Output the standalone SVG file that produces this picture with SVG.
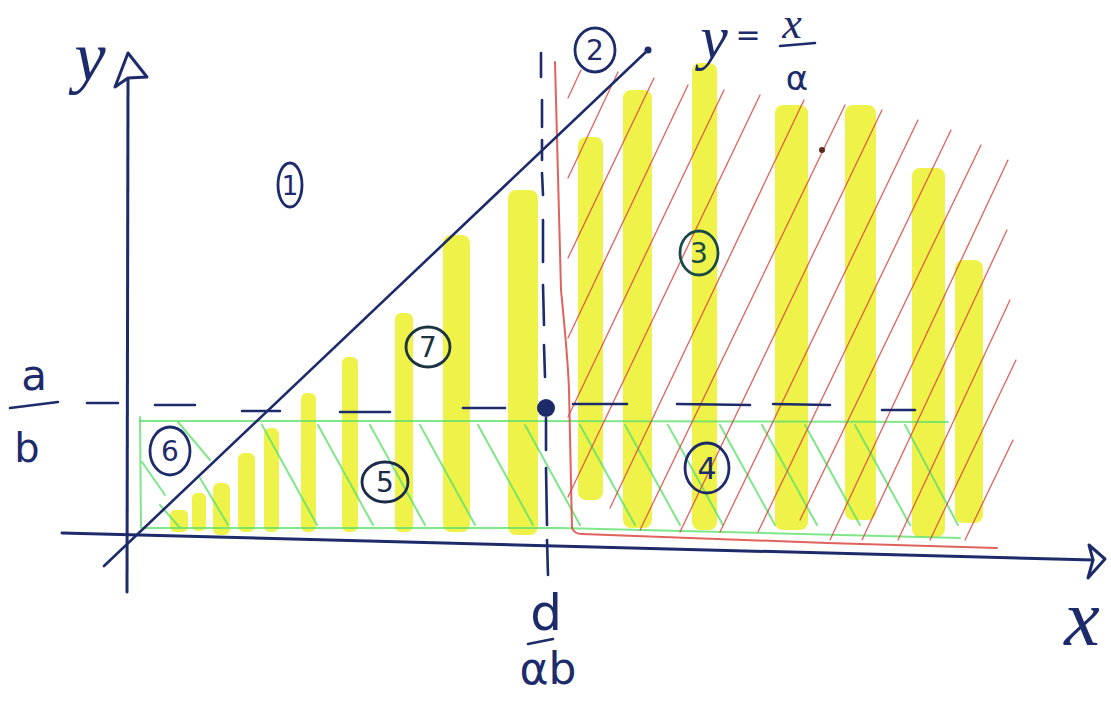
<svg xmlns="http://www.w3.org/2000/svg" width="1111" height="701" viewBox="0 0 1111 701">
<style>
.ink{stroke:#1d2b6b;fill:none;stroke-linecap:round;stroke-linejoin:round}
.ax{stroke-width:3}
.dash{stroke-width:2.6}
.yel{fill:#eef23a;opacity:.92}
.grn{stroke:#5fe06c;stroke-width:2;fill:none;opacity:.8;stroke-linecap:round}
.red{stroke:#d9473f;stroke-width:1.3;fill:none;opacity:.85;stroke-linecap:round}
.lbl{font-family:"DejaVu Sans",sans-serif;fill:#1d2b6b;text-anchor:middle}
.it{font-family:"Liberation Serif",serif;font-style:italic;fill:#1d2b6b;text-anchor:middle}
.circ{stroke:#1d2b6b;stroke-width:2.8;fill:none}
</style>
<rect width="1111" height="701" fill="#ffffff"/>

<g id="yellow-shading">
<rect class="yel" x="170" y="510" width="18" height="22" rx="5"/>
<rect class="yel" x="192" y="493" width="14" height="38" rx="5"/>
<rect class="yel" x="213" y="483" width="17" height="52" rx="6"/>
<rect class="yel" x="238" y="453" width="17" height="79" rx="6"/>
<rect class="yel" x="264" y="428" width="15" height="104" rx="6"/>
<rect class="yel" x="301" y="393" width="15" height="139" rx="6"/>
<rect class="yel" x="342" y="357" width="16" height="175" rx="6"/>
<rect class="yel" x="395" y="313" width="18" height="219" rx="6"/>
<rect class="yel" x="443" y="235" width="27" height="297" rx="8"/>
<rect class="yel" x="508" y="190" width="30" height="345" rx="8"/>
<rect class="yel" x="578" y="137" width="25" height="363" rx="8"/>
<rect class="yel" x="623" y="90" width="29" height="438" rx="8"/>
<rect class="yel" x="692" y="63" width="25" height="467" rx="8"/>
<rect class="yel" x="775" y="105" width="33" height="425" rx="8"/>
<rect class="yel" x="845" y="105" width="31" height="415" rx="8"/>
<rect class="yel" x="912" y="168" width="33" height="369" rx="8"/>
<rect class="yel" x="955" y="260" width="28" height="263" rx="8"/>
</g>

<g id="green-region">
<path class="grn" d="M140,417 L141,528"/>
<path class="grn" d="M140,421 L500,421 L948,422"/>
<path class="grn" d="M143,528 L560,528 L960,538"/>
<path class="grn" d="M178,422 L210,460 M142,462 L165,495 M160,505 L180,528 M200,478 L228,525"/>
<path class="grn" d="M262,425 L317,525 M318,425 L373,525 M370,425 L425,525 M420,425 L475,525 M478,425 L533,525 M525,425 L580,525 M580,425 L635,525 M625,425 L680,525 M668,425 L723,525 M720,425 L775,525 M762,425 L817,525 M805,425 L860,525 M855,425 L910,525 M905,425 L958,525"/>
</g>

<g id="red-region">
<path class="red" style="stroke-width:2" d="M555,62 C557,150 559,230 561,290 C565,330 568,360 569,390 L572,528 C574,533 578,534 582,534 L827,543 L997,548"/>
<path class="red" d="M568,98 L581,70 M568,178 L618,72 M568,258 L654,78 M568,338 L688,85 M568,417 L724,90 M568,497 L760,95 M610,508 L804,100 M640,530 L845,105 M680,532 L882,110 M720,532 L918,120 M758,532 L951,130 M800,520 L981,145 M830,540 L1008,160 M862,540 L1007,230 M898,540 L1010,300 M930,540 L1016,360 M965,540 L1013,440"/>
<circle cx="822" cy="150" r="3" fill="#5a2a20"/>
</g>

<g id="axes">
<path class="ink ax" d="M127,592 L128,80"/>
<path class="ink ax" d="M115,87 L128,53 L147,77 L128,78 Z"/>
<path class="ink ax" d="M62,533 L1093,560"/>
<path class="ink ax" d="M1089,545 L1105,559 L1088,578 L1093,560 Z"/>
</g>

<g id="line-y-eq-x-over-alpha">
<path class="ink" style="stroke-width:2.6" d="M104,566 L648,50"/>
<circle cx="648" cy="50" r="3.5" fill="#1d2b6b"/>
</g>

<g id="dashed-guides">
<path class="ink dash" d="M87,403 L118,403 M155,405 L195,405 M242,411 L280,411 M340,412 L390,412 M463,408 L505,408 M573,404 L627,404 M677,404 L750,405 M773,404 L830,405 M882,410 L915,410"/>
<path class="ink dash" d="M541,53 L541,77 M542,100 L542,127 M542,140 L542,160 M542,173 L543,195 M543,220 L543,262 M543,285 L544,325 M544,345 L545,377 M546,418 L546,450 M546,468 L547,525 M547,540 L548,575"/>
<circle cx="546" cy="408" r="9" fill="#1d2b6b"/>
</g>

<g id="region-labels">
<g id="r1"><ellipse class="circ" cx="290" cy="185" rx="12" ry="22"/><text class="lbl" x="290" y="195" font-size="26">1</text></g>
<g id="r2"><ellipse class="circ" cx="595" cy="50" rx="20" ry="22"/><text class="lbl" x="595" y="60" font-size="28">2</text></g>
<g id="r3"><ellipse class="circ" style="stroke:#1a4a45" cx="699" cy="253" rx="19" ry="22"/><text class="lbl" style="fill:#1a4a45" x="699" y="263" font-size="28">3</text></g>
<g id="r4"><ellipse class="circ" cx="707" cy="468" rx="22" ry="25"/><text class="lbl" x="707" y="479" font-size="30">4</text></g>
<g id="r5"><ellipse class="circ" style="stroke:#1c2a4a" cx="385" cy="482" rx="23" ry="20"/><text class="lbl" style="fill:#1c2a4a" x="385" y="492" font-size="28">5</text></g>
<g id="r6"><ellipse class="circ" cx="170" cy="451" rx="20" ry="24"/><text class="lbl" x="170" y="461" font-size="28">6</text></g>
<g id="r7"><ellipse class="circ" style="stroke:#1c3340" cx="428" cy="347" rx="22" ry="20"/><text class="lbl" style="fill:#1c3340" x="428" y="357" font-size="28">7</text></g>
</g>

<g id="axis-labels">
<text class="it" x="90" y="80" font-size="70">y</text>
<text class="it" x="1082" y="645" font-size="80">x</text>
<text class="lbl" x="34" y="390" font-size="42">a</text>
<path class="ink" style="stroke-width:2.6" d="M10,408 L58,402"/>
<text class="lbl" x="27" y="462" font-size="40">b</text>
<text class="lbl" x="546" y="630" font-size="50">d</text>
<path class="ink" style="stroke-width:2.6" d="M528,644 L553,639"/>
<text class="lbl" x="548" y="684" font-size="44">αb</text>
<text class="it" x="714" y="58" font-size="62">y</text>
<text class="lbl" x="748" y="45" font-size="30">=</text>
<text class="it" x="792" y="38" font-size="44">x</text>
<path class="ink" style="stroke-width:2.6" d="M780,46 L815,43"/>
<text class="lbl" x="797" y="90" font-size="34">α</text>
</g>
</svg>
